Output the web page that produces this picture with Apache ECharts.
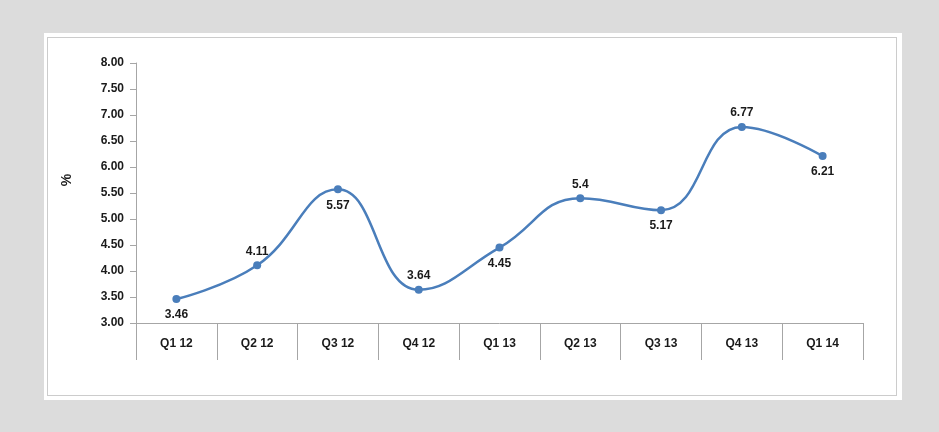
<!DOCTYPE html>
<html>
<head>
<meta charset="utf-8">
<script src="https://cdn.jsdelivr.net/npm/echarts@6/dist/echarts.min.js"></script>
<style>
  html, body { margin: 0; padding: 0; background: #dcdcdc; }
  #panel { position: absolute; left: 44px; top: 33px; width: 858px; height: 367px; background: #fff; }
  #frame { position: absolute; left: 47px; top: 37px; width: 850px; height: 359px; border: 1px solid #cccccc; box-sizing: border-box; }
  #chart { position: absolute; left: 0; top: 0; width: 939px; height: 432px; }
</style>
</head>
<body>
<div id="panel"></div>
<div id="frame"></div>
<div id="chart"></div>
<script>
// Quarterly rate, percent
const quarters = ['Q1 12', 'Q2 12', 'Q3 12', 'Q4 12', 'Q1 13', 'Q2 13', 'Q3 13', 'Q4 13', 'Q1 14'];
const rates = [3.46, 4.11, 5.57, 3.64, 4.45, 5.4, 5.17, 6.77, 6.21];
const labelSides = ['bottom', 'top', 'bottom', 'top', 'bottom', 'top', 'bottom', 'top', 'bottom'];

const chart = echarts.init(document.getElementById('chart'), null, { renderer: 'canvas' });
const font = 'Liberation Sans, Arial, sans-serif';

chart.setOption({
  backgroundColor: 'transparent',
  animation: false,
  grid: { left: 136, right: 76, top: 63, bottom: 109 },
  xAxis: {
    type: 'category',
    data: quarters,
    boundaryGap: true,
    axisLine: { lineStyle: { color: '#a6a6a6', width: 1 } },
    axisTick: { show: true, length: 37, alignWithLabel: false, lineStyle: { color: '#a6a6a6' } },
    axisLabel: { color: '#1a1a1a', fontFamily: font, fontWeight: 'bold', fontSize: 12, margin: 15 }
  },
  yAxis: {
    type: 'value',
    min: 3,
    max: 8,
    interval: 0.5,
    name: '%',
    nameLocation: 'middle',
    nameGap: 62,
    nameRotate: 90,
    nameTextStyle: { color: '#1a1a1a', fontFamily: font, fontWeight: 'bold', fontSize: 14, padding: [0, 0, 0, 26] },
    axisLine: { show: true, lineStyle: { color: '#a6a6a6' } },
    axisTick: { show: true, length: 6, lineStyle: { color: '#a6a6a6' } },
    splitLine: { show: false },
    axisLabel: {
      color: '#1a1a1a', fontFamily: font, fontWeight: 'bold', fontSize: 12, margin: 12,
      formatter: v => v.toFixed(2)
    }
  },
  series: [{
    type: 'line',
    data: rates.map((v, i) => ({
      value: v,
      label: { position: labelSides[i], distance: labelSides[i] === 'top' ? 4 : 6 }
    })),
    smooth: 0.45,
    symbol: 'circle',
    symbolSize: 8,
    lineStyle: { color: '#4a7ebb', width: 2.5 },
    itemStyle: { color: '#4a7ebb' },
    label: {
      show: true,
      color: '#1a1a1a',
      fontFamily: font,
      fontWeight: 'bold',
      fontSize: 12,
      formatter: p => String(p.value)
    }
  }]
});
</script>
</body>
</html>
